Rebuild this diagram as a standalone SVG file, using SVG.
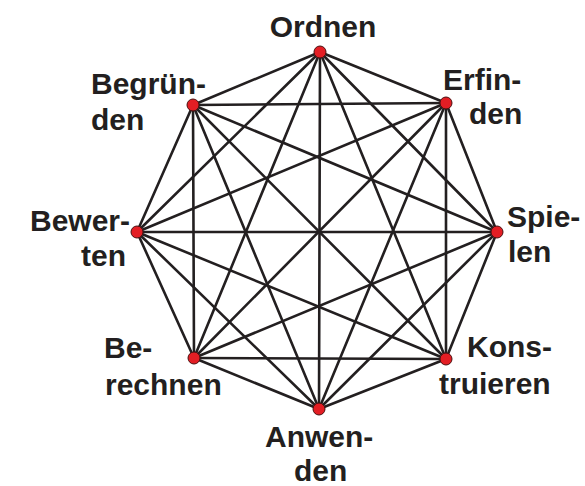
<svg xmlns="http://www.w3.org/2000/svg" width="585" height="486" viewBox="0 0 585 486">
<style>
.e{stroke:#231f20;stroke-width:2.6;stroke-linecap:round}
.n{fill:#e31e24;stroke:#4a1010;stroke-width:1}
.t{font-family:"Liberation Sans",Arial,sans-serif;font-weight:bold;font-size:30px;fill:#231f20}
</style>
<rect width="585" height="486" fill="#ffffff"/>
<g id="connectors">
<line class="e" x1="320" y1="52" x2="446" y2="103"/>
<line class="e" x1="320" y1="52" x2="497" y2="232"/>
<line class="e" x1="320" y1="52" x2="446" y2="359"/>
<line class="e" x1="320" y1="52" x2="319" y2="409"/>
<line class="e" x1="320" y1="52" x2="194" y2="358"/>
<line class="e" x1="320" y1="52" x2="137" y2="232"/>
<line class="e" x1="320" y1="52" x2="193" y2="105"/>
<line class="e" x1="446" y1="103" x2="497" y2="232"/>
<line class="e" x1="446" y1="103" x2="446" y2="359"/>
<line class="e" x1="446" y1="103" x2="319" y2="409"/>
<line class="e" x1="446" y1="103" x2="194" y2="358"/>
<line class="e" x1="446" y1="103" x2="137" y2="232"/>
<line class="e" x1="446" y1="103" x2="193" y2="105"/>
<line class="e" x1="497" y1="232" x2="446" y2="359"/>
<line class="e" x1="497" y1="232" x2="319" y2="409"/>
<line class="e" x1="497" y1="232" x2="194" y2="358"/>
<line class="e" x1="497" y1="232" x2="137" y2="232"/>
<line class="e" x1="497" y1="232" x2="193" y2="105"/>
<line class="e" x1="446" y1="359" x2="319" y2="409"/>
<line class="e" x1="446" y1="359" x2="194" y2="358"/>
<line class="e" x1="446" y1="359" x2="137" y2="232"/>
<line class="e" x1="446" y1="359" x2="193" y2="105"/>
<line class="e" x1="319" y1="409" x2="194" y2="358"/>
<line class="e" x1="319" y1="409" x2="137" y2="232"/>
<line class="e" x1="319" y1="409" x2="193" y2="105"/>
<line class="e" x1="194" y1="358" x2="137" y2="232"/>
<line class="e" x1="194" y1="358" x2="193" y2="105"/>
<line class="e" x1="137" y1="232" x2="193" y2="105"/>
</g>
<g id="ordnen"><circle class="n" cx="320" cy="52" r="6"/><text class="t" x="323" y="37" text-anchor="middle">Ordnen</text></g>
<g id="erfinden"><circle class="n" cx="446" cy="103" r="6"/><text class="t" x="443" y="89.5">Erfin-</text><text class="t" x="469" y="124">den</text></g>
<g id="spielen"><circle class="n" cx="497" cy="232" r="6"/><text class="t" x="507" y="226.5">Spie-</text><text class="t" x="508" y="262">len</text></g>
<g id="konstruieren"><circle class="n" cx="446" cy="359" r="6"/><text class="t" x="467" y="357">Kons-</text><text class="t" x="439" y="394">truieren</text></g>
<g id="anwenden"><circle class="n" cx="319" cy="409" r="6"/><text class="t" x="265" y="447">Anwen-</text><text class="t" x="294" y="481">den</text></g>
<g id="berechnen"><circle class="n" cx="194" cy="358" r="6"/><text class="t" x="104" y="358">Be-</text><text class="t" x="105" y="395">rechnen</text></g>
<g id="bewerten"><circle class="n" cx="137" cy="232" r="6"/><text class="t" x="30" y="231">Bewer-</text><text class="t" x="81" y="266">ten</text></g>
<g id="begruenden"><circle class="n" cx="193" cy="105" r="6"/><text class="t" x="91" y="93.5">Begrün-</text><text class="t" x="91" y="130">den</text></g>
</svg>
